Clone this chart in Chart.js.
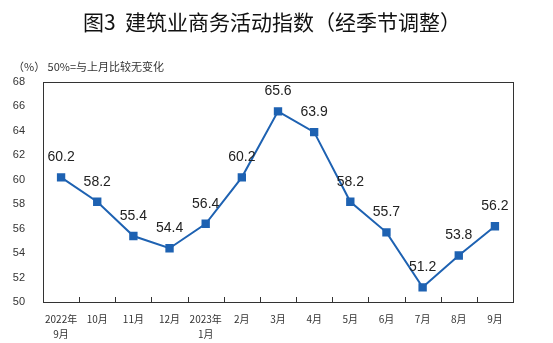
<!DOCTYPE html>
<html>
<head>
<meta charset="utf-8">
<script src="https://cdn.jsdelivr.net/npm/chart.js@4"></script>
<style>
  html, body { margin: 0; padding: 0; background: #fff; }
  #wrap { width: 553px; height: 343px; }
</style>
</head>
<body>
<div id="wrap"><canvas id="myChart" width="553" height="343"></canvas></div>
<script>
// 数据：建筑业商务活动指数（经季节调整）
const months = [['2022年', '9月'], '10月', '11月', '12月', ['2023年', '1月'], '2月', '3月', '4月', '5月', '6月', '7月', '8月', '9月'];
const indexValues = [60.2, 58.2, 55.4, 54.4, 56.4, 60.2, 65.6, 63.9, 58.2, 55.7, 51.2, 53.8, 56.2];
const yTicks = [50, 52, 54, 56, 58, 60, 62, 64, 66, 68];

const titleText = '图3  建筑业商务活动指数（经季节调整）';
const noteText = '（%） 50%=与上月比较无变化';
const lineColor = '#1e62b2';

// 标题、边框、x轴内刻度、数据标签
const extras = {
    id: 'extras',
    beforeDatasetsDraw(chart) {
        const { ctx, chartArea: a, scales: { x } } = chart;
        ctx.save();
        ctx.strokeStyle = '#333';
        ctx.lineWidth = 1;
        ctx.strokeRect(Math.round(a.left) + 0.5, Math.round(a.top) + 0.5,
            Math.round(a.right - a.left), Math.round(a.bottom - a.top));
        ctx.beginPath();
        for (let i = 0; i < months.length - 1; i++) {
            const px = Math.round((x.getPixelForValue(i) + x.getPixelForValue(i + 1)) / 2) + 0.5;
            ctx.moveTo(px, Math.round(a.bottom));
            ctx.lineTo(px, Math.round(a.bottom) - 5);
        }
        ctx.stroke();
        ctx.restore();
    },
    afterDraw(chart) {
        const { ctx } = chart;
        ctx.save();
        ctx.fillStyle = '#111';
        ctx.textAlign = 'center';
        ctx.textBaseline = 'middle';
        ctx.font = '21px "Noto Sans CJK SC"';
        ctx.fillText(titleText, 272, 22);
        ctx.textAlign = 'left';
        ctx.fillStyle = '#333';
        ctx.font = '11px "Noto Sans CJK SC"';
        ctx.fillText(noteText, 13, 67);

        ctx.fillStyle = '#222';
        ctx.textAlign = 'center';
        ctx.font = '14px "Liberation Sans"';
        const meta = chart.getDatasetMeta(0);
        meta.data.forEach((pt, i) => {
            ctx.fillText(indexValues[i].toFixed(1), pt.x, pt.y - 20);
        });
        ctx.restore();
    }
};

const ctx = document.getElementById('myChart').getContext('2d');
const myChart = new Chart(ctx, {
    type: 'line',
    data: {
        labels: months,
        datasets: [{
            data: indexValues,
            borderColor: lineColor,
            backgroundColor: lineColor,
            borderWidth: 2,
            pointStyle: 'rect',
            pointRadius: 4.5,
            tension: 0
        }]
    },
    options: {
        responsive: false,
        animation: false,
        layout: { padding: { top: 82, right: 40, left: 0, bottom: 0 } },
        plugins: {
            legend: { display: false },
            tooltip: { enabled: false }
        },
        scales: {
            x: {
                offset: true,
                grid: { display: false },
                border: { display: false },
                ticks: {
                    padding: 2,
                    maxRotation: 0,
                    autoSkip: false,
                    color: '#333',
                    font: { family: '"Noto Sans CJK SC"', size: 10, lineHeight: 1.5 }
                },
                afterFit(scale) { scale.height = 41; }
            },
            y: {
                min: 50,
                max: 68,
                afterBuildTicks(scale) { scale.ticks = yTicks.map(v => ({ value: v })); },
                grid: { display: false },
                border: { display: false },
                ticks: {
                    padding: 10,
                    color: '#333',
                    font: { family: '"Liberation Sans"', size: 11 }
                },
                afterFit(scale) { scale.width = 43; }
            }
        }
    },
    plugins: [extras]
});
</script>
</body>
</html>
